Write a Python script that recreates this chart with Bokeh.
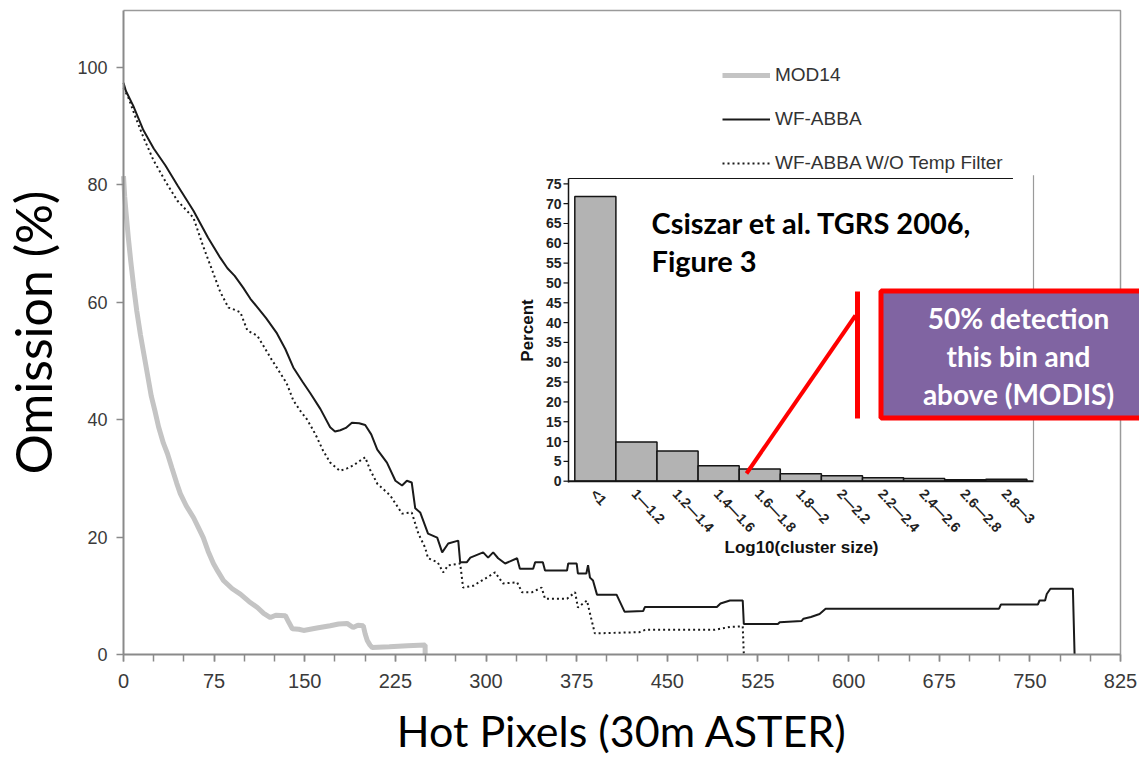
import math
from bokeh.plotting import figure
from bokeh.models import Range1d, FixedTicker, Legend, LegendItem
from bokeh.embed import file_html
from bokeh.resources import INLINE
from bokeh.core.properties import value

# ---------------- data ----------------
mod14_x = [0, 1, 2, 4, 6, 8.5, 11, 14, 17, 20, 23, 26, 29, 33, 36.4, 40, 44, 47, 52, 58,
           62, 66, 70, 74.4, 78, 82.7, 90, 96.7, 104, 110.8, 116, 121.5, 126, 134, 137,
           139.7, 145, 149, 160, 171, 178, 185, 190, 194, 198.4, 200, 201.7, 204, 205.8,
           220, 235, 249.6, 249.6]
mod14_y = [81.5, 78, 75.5, 71, 67, 62.5, 58.5, 54.5, 51, 47.5, 44, 41.5, 38.8, 36, 34.2,
           31.8, 29.2, 27.4, 25.3, 23.3, 21.6, 19.9, 17.6, 15.5, 14.2, 12.6, 11.2, 10.3,
           9.0, 8.0, 7.0, 6.3, 6.7, 6.6, 5.4, 4.4, 4.3, 4.1, 4.5, 4.9, 5.2, 5.3, 4.6, 5.0,
           4.9, 3.5, 2.4, 1.6, 1.2, 1.3, 1.5, 1.6, 0.0]

wfabba_x = [0, 2, 8, 16.5, 25, 34.7, 45, 57.9, 70, 80, 86, 92, 99, 105, 111, 118, 127, 134,
            140.5, 148, 154.6, 163, 171, 175, 179.4, 184, 189, 195, 200, 205, 210, 218, 225,
            230.5, 234.5, 238.5, 241.4, 245.5, 252, 259.6, 263.7, 268.7, 277, 278.6, 284,
            287, 297.6, 301.7, 305.9, 310, 315.8, 325.7, 328, 339, 340.6, 347, 348.8, 367,
            368, 375, 376, 383, 384.4, 386, 388.5, 391.8, 408, 414.6, 430, 431.5, 491, 494,
            501.8, 512.4, 513.3, 541.5, 543, 561, 562.7, 568.8, 576, 581, 724.5, 726, 756.6,
            758, 762.6, 764, 767, 785.6, 787]
wfabba_y = [97.4, 96, 93.5, 89.3, 86.2, 83.3, 79.8, 75.6, 71, 67.6, 65.8, 64.5, 62.5, 60.6,
            59.1, 57.3, 54.7, 52, 48.9, 46.5, 44.5, 41.8, 38.7, 38.0, 38.2, 38.6, 39.5, 39.4,
            39.1, 37.5, 34.9, 32.7, 29.6, 28.8, 29.6, 29.3, 24.9, 24.2, 20.6, 19.9, 17.4,
            18.9, 19.4, 15.7, 15.7, 16.5, 17.4, 16.5, 17.4, 16.4, 15.5, 16.4, 14.6, 14.6,
            15.7, 15.7, 14.3, 14.3, 15.5, 15.5, 13.8, 13.8, 15.2, 13.1, 12.6, 10.2, 10.2,
            7.3, 7.4, 8.1, 8.1, 8.7, 9.2, 9.2, 5.2, 5.2, 5.5, 5.7, 6.1, 6.4, 6.9, 7.8, 7.8,
            8.5, 8.5, 9.2, 9.2, 10.3, 11.2, 11.2, 0.0]

notemp_x = [0, 4, 10, 16.5, 24.8, 35, 44.6, 57.9, 66, 74.4, 80, 86.8, 90, 96.7, 102.5,
            110.8, 116, 121.5, 129.8, 135, 140.5, 146, 152, 157, 160, 165, 171, 179, 185,
            190, 200, 204, 210, 220.7, 230.5, 238.5, 244, 249.6, 252, 260, 264.5, 268.7,
            278.6, 281, 289.3, 300.7, 307.5, 314, 325.7, 329.8, 338, 346, 348.8, 367, 373.7,
            376, 383.5, 386, 390, 427, 431.6, 489.4, 501.8, 512.4, 513.3]
notemp_y = [96.5, 94.9, 91.5, 88.1, 84.2, 80.5, 77.3, 74.4, 69.5, 64.9, 61.8, 59.1, 58.9,
            58.3, 55.2, 54.3, 52.5, 50.6, 47.9, 46.2, 43.3, 41.6, 40, 38.2, 37, 34.8, 32.7,
            31.3, 31.7, 32.2, 33.6, 31.5, 29.1, 27.1, 24.0, 24.2, 20.6, 18.2, 16.4, 15.7,
            14.0, 15.2, 15.5, 11.4, 11.7, 13.1, 14.0, 12.1, 12.3, 10.6, 10.6, 11.4, 9.5, 9.5,
            10.6, 8.0, 9.2, 7.0, 3.6, 3.8, 4.2, 4.2, 4.7, 4.8, 0.0]

series_labels = ["MOD14", "WF-ABBA", "WF-ABBA W/O Temp Filter"]

x_tick_values = [0, 75, 150, 225, 300, 375, 450, 525, 600, 675, 750, 825]
x_minor_values = list(range(0, 826, 25))
y_tick_values = [0, 20, 40, 60, 80, 100]

# inset histogram
bin_labels = ["<1", "1\u20141.2", "1.2\u20141.4", "1.4\u20141.6", "1.6\u20141.8", "1.8\u20142",
              "2\u20142.2", "2.2\u20142.4", "2.4\u20142.6", "2.6\u20142.8", "2.8\u20143"]
bin_percent = [71.8, 9.9, 7.6, 3.9, 3.1, 1.85, 1.4, 0.85, 0.67, 0.35, 0.5]
inset_y_ticks = [0, 5, 10, 15, 20, 25, 30, 35, 40, 45, 50, 55, 60, 65, 70, 75]

# ---------------- layout constants (page pixels) ----------------
W, H = 1139, 757
AX_L, AX_T, AX_R, AX_B = 123, 10, 1121, 654   # main chart box on page
KX = (1120 - 123) / 825.0                      # px per hot pixel
KY = (654 - 67) / 100.0                        # px per %


def mx(px):
    return (px - AX_L) / KX


def my(py):
    return (AX_B - py) / KY


# inset mapping (page px)
IX0, IKX = 574.3, 41.1
IY0, IKY = 480.7, 3.965
U_AX = (568 - IX0) / IKX
U_R = (1033 - IX0) / IKX
V_T = (IY0 - 178) / IKY

p = figure(width=W, height=H, x_range=Range1d(mx(0), mx(W)), y_range=Range1d(my(H), my(0)),
           output_backend="svg", toolbar_location=None,
           min_border_left=0, min_border_top=0, min_border_bottom=0, min_border_right=0)
p.extra_x_ranges = {"ix": Range1d((0 - IX0) / IKX, (W - IX0) / IKX)}
p.extra_y_ranges = {"iy": Range1d(-(H - IY0) / IKY, IY0 / IKY)}
p.grid.visible = False
p.outline_line_color = None
p.background_fill_color = "white"
p.border_fill_color = "white"

AX_COL = "#8a8a8a"
TICK_TXT = "#3a3a3a"
p.xaxis.ticker = FixedTicker(ticks=x_tick_values, minor_ticks=x_minor_values)
p.xaxis.bounds = (0, 825)
p.xaxis.fixed_location = 0
p.yaxis.ticker = FixedTicker(ticks=y_tick_values, minor_ticks=[])
p.yaxis.bounds = (0, my(AX_T))
p.yaxis.fixed_location = 0
for ax in (p.xaxis, p.yaxis):
    ax.axis_line_color = AX_COL
    ax.axis_line_width = 2
    ax.major_tick_line_color = AX_COL
    ax.minor_tick_line_color = AX_COL
    ax.major_tick_line_width = 1.5
    ax.minor_tick_line_width = 1.5
    ax.major_tick_out = 7
    ax.major_tick_in = 0
    ax.minor_tick_out = 7
    ax.minor_tick_in = 0
    ax.major_label_text_color = TICK_TXT
    ax.major_label_text_font = "Liberation Sans"
    ax.axis_label_text_font = "Lato"
    ax.axis_label_text_font_style = "normal"
    ax.axis_label_text_color = "#000000"
p.xaxis.major_label_text_font_size = "20px"
p.xaxis.major_label_standoff = 12
p.xaxis.axis_label = "Hot Pixels (30m ASTER)"
p.xaxis.axis_label_text_font_size = "43px"
p.xaxis.axis_label_standoff = 14
p.yaxis.major_label_text_font_size = "18px"
p.yaxis.major_label_standoff = 9
p.yaxis.axis_label = "Omission (%)"
p.yaxis.axis_label_text_font_size = "50px"
p.yaxis.axis_label_standoff = 11

# chart box top/right borders
p.line(x=[0, 825, 825], y=[my(AX_T), my(AX_T), 0], line_color="#9a9a9a", line_width=1.5)

# main series
r_mod = p.line(mod14_x, mod14_y, line_color="#c4c4c4", line_width=5)
r_wf = p.line(wfabba_x, wfabba_y, line_color="#1a1a1a", line_width=2)
r_nt = p.line(notemp_x, notemp_y, line_color="#1a1a1a", line_width=2, line_dash="2 3")

legend = Legend(items=[LegendItem(label=series_labels[0], renderers=[r_mod]),
                       LegendItem(label=series_labels[1], renderers=[r_wf]),
                       LegendItem(label=series_labels[2], renderers=[r_nt])],
                location=(722, H - 174), orientation="vertical",
                glyph_width=48, glyph_height=22, label_height=22, spacing=22,
                label_standoff=5, padding=0, margin=0,
                background_fill_alpha=0, border_line_color=None,
                label_text_font="Liberation Sans", label_text_font_size="19px",
                label_text_color="#333333")
p.add_layout(legend)

# ---------------- inset histogram ----------------
IR = dict(x_range_name="ix", y_range_name="iy")
idx = list(range(len(bin_percent)))
p.quad(left=[i for i in idx], right=[i + 1 for i in idx], bottom=0, top=bin_percent,
       fill_color="#b3b3b3", line_color="#151515", line_width=1.5, **IR)
p.line(x=[U_AX, U_AX], y=[-0.3, V_T], line_color="#151515", line_width=1.5, **IR)
p.line(x=[U_AX, U_R], y=[0, 0], line_color="#151515", line_width=2, **IR)
p.line(x=[U_AX, U_R - 0.5], y=[V_T, V_T], line_color="#151515", line_width=1.2, **IR)
p.line(x=[U_R, U_R], y=[0, V_T + 0.8], line_color="#9a9a9a", line_width=1.2, **IR)
p.segment(x0=[U_AX] * len(inset_y_ticks), x1=[U_AX - 5 / IKX] * len(inset_y_ticks),
          y0=inset_y_ticks, y1=inset_y_ticks, line_color="#151515", line_width=1.2, **IR)
p.text(x=[U_AX - 7 / IKX] * len(inset_y_ticks), y=inset_y_ticks,
       text=[str(t) for t in inset_y_ticks], text_align="right", text_baseline="middle",
       text_font=value("Liberation Sans"), text_font_style="bold", text_font_size="14px",
       text_color="#222222", **IR)
p.text(x=[i + 0.45 for i in idx], y=[-10 / IKY] * len(idx), text=bin_labels,
       angle=-0.82, text_align="left", text_baseline="middle",
       text_font=value("Liberation Sans"), text_font_style="bold", text_font_size="14px",
       text_color="#222222", **IR)
p.text(x=[mx(527)], y=[my(330)], text=["Percent"], angle=math.pi / 2,
       text_align="center", text_baseline="middle", text_font=value("Liberation Sans"),
       text_font_style="bold", text_font_size="17px", text_color="#111111")
p.text(x=[mx(801)], y=[my(547)], text=["Log10(cluster size)"],
       text_align="center", text_baseline="middle", text_font=value("Liberation Sans"),
       text_font_style="bold", text_font_size="17px", text_color="#111111")

# citation
p.text(x=[mx(651), mx(651)], y=[my(222), my(260)],
       text=["Csiszar et al. TGRS 2006,", "Figure 3"], text_align="left",
       text_baseline="middle", text_font=value("Lato"), text_font_style="bold",
       text_font_size="29px", text_color="#000000")

# callout
p.quad(left=[mx(880.5)], right=[mx(1150)], top=[my(290.5)], bottom=[my(417.5)],
       fill_color="#8064a2", line_color="#ff0000", line_width=5)
p.text(x=[mx(1018)] * 3, y=[my(317), my(355), my(393)],
       text=["50% detection", "this bin and", "above (MODIS)"], text_align="center",
       text_baseline="middle", text_font=value("Lato"), text_font_style="bold",
       text_font_size="28px", text_color="#ffffff")
p.line(x=[mx(857), mx(857)], y=[my(291), my(418)], line_color="#ff0000", line_width=5)
p.line(x=[mx(855), mx(746)], y=[my(315), my(473)], line_color="#ff0000", line_width=4)

open("out.html", "w").write(file_html(p, INLINE))
